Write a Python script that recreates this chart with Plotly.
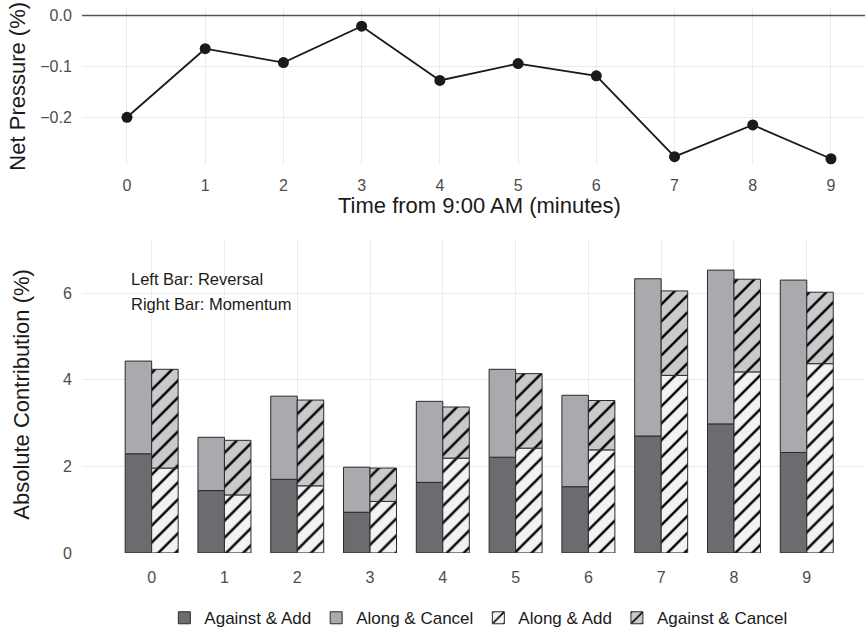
import plotly.graph_objects as go

# Minutes after the 9:00 AM open
minutes = [0, 1, 2, 3, 4, 5, 6, 7, 8, 9]

# Net order-flow pressure per minute (%)
net_pressure = [-0.199, -0.065, -0.092, -0.021, -0.127, -0.094, -0.118, -0.276, -0.214, -0.280]

# Reversal bar (left): stacked components (%)
against_add = [2.29, 1.44, 1.70, 0.94, 1.63, 2.21, 1.53, 2.70, 2.98, 2.32]
along_cancel = [2.14, 1.23, 1.92, 1.04, 1.87, 2.03, 2.11, 3.63, 3.55, 3.98]

# Momentum bar (right): stacked components (%)
along_add = [1.96, 1.34, 1.55, 1.19, 2.19, 2.42, 2.38, 4.10, 4.18, 4.37]
against_cancel = [2.28, 1.26, 1.98, 0.77, 1.18, 1.72, 1.14, 1.95, 2.14, 1.65]

y_ticks_top = [0.0, -0.1, -0.2]
y_ticks_bottom = [0, 2, 4, 6]

W, H = 865, 641
FONT = "Liberation Sans, Arial, sans-serif"
TICK_GREY = "#4d4d4d"
GRID = "#ebebeb"
EDGE = "#2b2b2b"

C_DARK = "#6b6c70"
C_MID = "#a9aaad"
C_HATCH_LOW = "#f1f2f2"
C_HATCH_HIGH = "#c9cacc"

BAR_W = 0.364

fig = go.Figure()

# Top panel: net pressure line
fig.add_trace(go.Scatter(
    x=minutes, y=net_pressure, mode="lines+markers",
    line=dict(color="#1a1a1a", width=1.8),
    marker=dict(color="#1a1a1a", size=11),
    showlegend=False, xaxis="x", yaxis="y", hoverinfo="skip",
))

hatch = dict(shape="/", fgcolor="#000000", fgopacity=1, size=12, solidity=0.2)

# Left bars (reversal)
fig.add_trace(go.Bar(
    x=minutes, y=against_add, name="Against & Add",
    offset=-BAR_W, width=BAR_W,
    marker=dict(color=C_DARK, line=dict(color=EDGE, width=1)),
    xaxis="x2", yaxis="y2",
))
fig.add_trace(go.Bar(
    x=minutes, y=along_cancel, base=against_add, name="Along & Cancel",
    offset=-BAR_W, width=BAR_W,
    marker=dict(color=C_MID, line=dict(color=EDGE, width=1)),
    xaxis="x2", yaxis="y2",
))
# Right bars (momentum), hatched
fig.add_trace(go.Bar(
    x=minutes, y=along_add, name="Along & Add",
    offset=0, width=BAR_W,
    marker=dict(color=C_HATCH_LOW, line=dict(color=EDGE, width=1),
                pattern=dict(bgcolor=C_HATCH_LOW, **hatch)),
    xaxis="x2", yaxis="y2",
))
fig.add_trace(go.Bar(
    x=minutes, y=against_cancel, base=along_add, name="Against & Cancel",
    offset=0, width=BAR_W,
    marker=dict(color=C_HATCH_HIGH, line=dict(color=EDGE, width=1),
                pattern=dict(bgcolor=C_HATCH_HIGH, **hatch)),
    xaxis="x2", yaxis="y2",
))

left = 82 / W
top_dom = [1 - 167 / H, 1 - 7 / H]
bot_dom = [1 - 560.7 / H, 1 - 241.7 / H]

tickfont = dict(family=FONT, size=16, color=TICK_GREY)
common = dict(showline=False, zeroline=False, gridcolor=GRID, gridwidth=1.4,
              tickfont=tickfont, ticks="outside", tickcolor="rgba(0,0,0,0)")

fig.update_layout(
    width=W, height=H,
    margin=dict(l=0, r=0, t=0, b=0),
    paper_bgcolor="white", plot_bgcolor="white",
    font=dict(family=FONT, color="#1a1a1a"),
    barmode="overlay",
    xaxis=dict(domain=[left, 1], anchor="y", range=[-0.575, 9.435],
               tickmode="array", tickvals=minutes, ticklen=5, **common),
    yaxis=dict(domain=top_dom, anchor="x", range=[-0.293, 0.0148],
               tickmode="array", tickvals=y_ticks_top, tickformat=".1f",
               ticklen=6, **common),
    xaxis2=dict(domain=[left, 1], anchor="y2", range=[-0.957, 9.80],
                tickmode="array", tickvals=minutes, ticklen=10, **common),
    yaxis2=dict(domain=bot_dom, anchor="x2", range=[0, 7.25],
                tickmode="array", tickvals=y_ticks_bottom, ticklen=6, **common),
    legend=dict(orientation="h", x=0.553, xanchor="center",
                y=1 - 627 / H, yanchor="middle",
                font=dict(family=FONT, size=17, color="#1a1a1a"),
                itemwidth=30, traceorder="normal"),
    shapes=[dict(type="line", xref="x domain", yref="y", x0=0, x1=1,
                 y0=0, y1=0, line=dict(color="#555555", width=1.6),
                 layer="above")],
)

title_font = dict(family=FONT, size=22, color="#1a1a1a")
annotations = [
    dict(text="Net Pressure (%)", xref="paper", yref="paper",
         x=18 / W, y=1 - 87 / H, textangle=-90, showarrow=False,
         xanchor="center", yanchor="middle", font=title_font),
    dict(text="Time from 9:00 AM (minutes)", xref="paper", yref="paper",
         x=479 / W, y=1 - 208 / H, showarrow=False,
         xanchor="center", yanchor="middle", font=title_font),
    dict(text="Absolute Contribution (%)", xref="paper", yref="paper",
         x=22 / W, y=1 - 400 / H, textangle=-90, showarrow=False,
         xanchor="center", yanchor="middle", font=title_font),
    dict(text="Left Bar: Reversal", xref="paper", yref="paper",
         x=129 / W, y=1 - 282 / H, showarrow=False, xanchor="left",
         yanchor="middle", font=dict(family=FONT, size=16.5, color="#1a1a1a")),
    dict(text="Right Bar: Momentum", xref="paper", yref="paper",
         x=129 / W, y=1 - 308 / H, showarrow=False, xanchor="left",
         yanchor="middle", font=dict(family=FONT, size=16.5, color="#1a1a1a")),
]
fig.update_layout(annotations=annotations)

fig.write_html("out.html")
